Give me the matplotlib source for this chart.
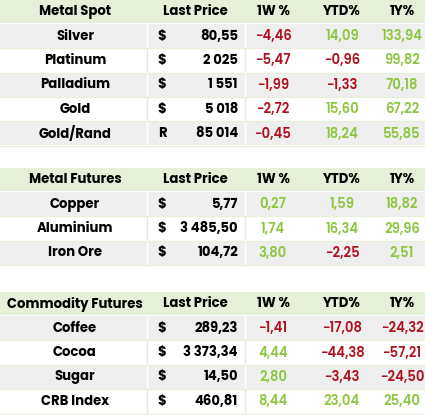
import matplotlib.pyplot as plt
from matplotlib.patches import Rectangle

plt.rcParams['font.family'] = ['Poppins', 'Inter', 'DejaVu Sans']

sections = ["Metal Spot", "Metal Futures", "Commodity Futures"]
names = [
    ["Silver", "Platinum", "Palladium", "Gold", "Gold/Rand"],
    ["Copper", "Aluminium", "Iron Ore"],
    ["Coffee", "Cocoa", "Sugar", "CRB Index"],
]
currency = [["$", "$", "$", "$", "R"], ["$", "$", "$"], ["$", "$", "$", "$"]]
prices = [
    ["80,55", "2 025", "1 551", "5 018", "85 014"],
    ["5,77", "3 485,50", "104,72"],
    ["289,23", "3 373,34", "14,50", "460,81"],
]
w1 = [[-4.46, -5.47, -1.99, -2.72, -0.45], [0.27, 1.74, 3.80], [-1.41, 4.44, 2.80, 8.44]]
ytd = [[14.09, -0.96, -1.33, 15.60, 18.24], [1.59, 16.34, -2.25], [-17.08, -44.38, -3.43, 23.04]]
y1 = [[133.94, 99.82, 70.18, 67.22, 55.85], [18.82, 29.96, 2.51], [-24.32, -57.21, -24.50, 25.40]]
headers = ["Last Price", "1W %", "YTD%", "1Y%"]

GREEN = "#8cc63f"
RED = "#b0101c"
HEAD_BG = "#e6f0d8"
ROW_BG = "#efefef"


def fmt(v):
    return f"{v:.2f}".replace(".", ",").replace("-", "\u2212")


fig = plt.figure(figsize=(4.25, 4.15), dpi=100)
ax = fig.add_axes([0, 0, 1, 1])
ax.set_xlim(0, 425)
ax.set_ylim(415, 0)
ax.axis("off")

rh = 24.4
tops = [0, 168, 292]
fs = 9.5
for s, top in enumerate(tops):
    ax.add_patch(Rectangle((0, top), 425, rh - 1, color=HEAD_BG, lw=0))
    hy = top + rh / 2
    ax.text(75, hy, sections[s], ha="center", va="center", fontsize=fs, weight="bold")
    ax.text(195, hy, headers[0], ha="center", va="center", fontsize=fs, weight="bold")
    ax.text(273, hy, headers[1], ha="center", va="center", fontsize=fs, weight="bold")
    ax.text(342, hy, headers[2], ha="center", va="center", fontsize=fs, weight="bold")
    ax.text(402, hy, headers[3], ha="center", va="center", fontsize=fs, weight="bold")
    for i, n in enumerate(names[s]):
        y = top + rh * (i + 1)
        if i % 2 == 0:
            ax.add_patch(Rectangle((0, y), 425, rh - 1, color=ROW_BG, lw=0))
        ax.plot([147, 147], [y, y + rh], color="#e6e6e6" if i % 2 else "white", lw=1)
        ax.plot([245, 245], [y, y + rh], color="#e6e6e6" if i % 2 else "white", lw=1)
        ax.plot([0, 425], [y + rh - 0.5, y + rh - 0.5], color="#e8f0dc", lw=1)
        cy = y + rh / 2
        ax.text(75, cy, n, ha="center", va="center", fontsize=fs, weight="bold")
        ax.text(162, cy, currency[s][i], ha="center", va="center", fontsize=fs, weight="bold")
        ax.text(238, cy, prices[s][i], ha="right", va="center", fontsize=fs, weight="bold")
        for x, v in [(273, w1[s][i]), (342, ytd[s][i]), (402, y1[s][i])]:
            ax.text(x, cy, fmt(v), ha="center", va="center", fontsize=fs, weight="semibold",
                    color=GREEN if v >= 0 else RED)

fig.savefig("out.png", dpi=100)
